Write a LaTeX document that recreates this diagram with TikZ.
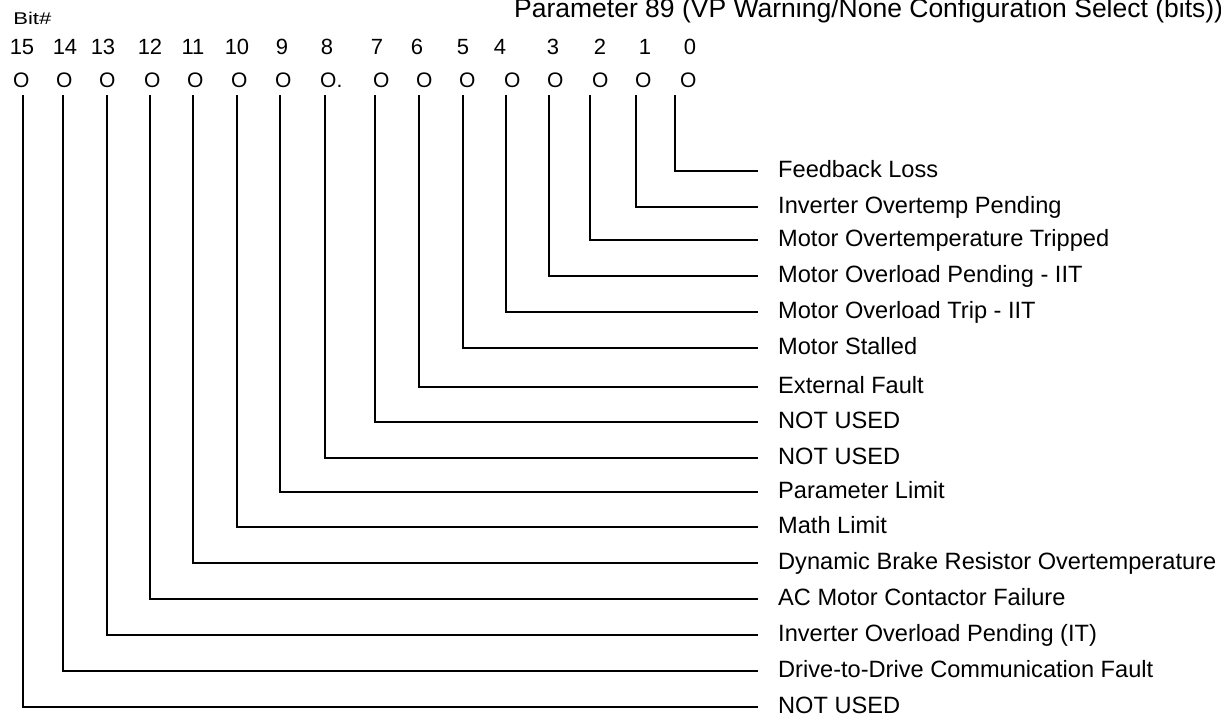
\documentclass[tikz,border=0pt]{standalone}
\usepackage{fontspec}
\setmainfont{Liberation Sans}
\begin{document}
\begin{tikzpicture}[x=1pt,y=-1pt,
  lbl/.style={anchor=base west, inner sep=0pt, font=\fontsize{23.6}{27}\selectfont},
  digit/.style={anchor=base, inner sep=0pt, font=\fontsize{22}{25}\selectfont},
  bito/.style={anchor=base west, inner sep=0pt, font=\fontsize{21}{25}\selectfont},
  conn/.style={draw=black, line width=2pt},
  hdr/.style={anchor=base west, inner sep=0pt}]
\useasboundingbox (0,0) rectangle (1221,717);
\node[hdr, font=\fontsize{17}{20}\selectfont, xscale=1.3, transform shape] (bitlbl) at (13,25) {Bit\#};
\node[hdr, font=\fontsize{26.5}{30}\selectfont] (title) at (514,18) {Parameter 89 (VP Warning/None Configuration Select (bits))};
\foreach \b/\vx/\dx/\ox/\hy/\txt in {
  0/675/690/688/171/{Feedback Loss},
  1/636/645/643/207/{Inverter Overtemp Pending},
  2/590/600/600/240/{Motor Overtemperature Tripped},
  3/549/553/555/276/{Motor Overload Pending - IIT},
  4/506/500/512/312/{Motor Overload Trip - IIT},
  5/463/463/467/348/{Motor Stalled},
  6/419/417/424/387/{External Fault},
  7/375/377/381/422/{NOT USED},
  8/325/327/328/458/{NOT USED},
  9/280/282/283/492/{Parameter Limit},
  10/237/237/239/527/{Math Limit},
  11/193/193/195/563/{Dynamic Brake Resistor Overtemperature},
  12/150/150/152/599/{AC Motor Contactor Failure},
  13/107/103/107/635/{Inverter Overload Pending (IT)},
  14/63/65/64/671/{Drive-to-Drive Communication Fault},
  15/23/22/21/707/{NOT USED}}{
  \node[digit] (d\b) at (\dx,55) {\b};
  \node[bito] (o\b) at (\ox-8,88) {O\ifnum\b=8 .\fi};
  \coordinate (t\b) at (\vx,95);
  \coordinate (e\b) at (758,\hy);
  \node[lbl] (l\b) at (778,\hy+6) {\txt};
  \draw[conn] (t\b) |- (e\b);
}
\end{tikzpicture}
\end{document}
